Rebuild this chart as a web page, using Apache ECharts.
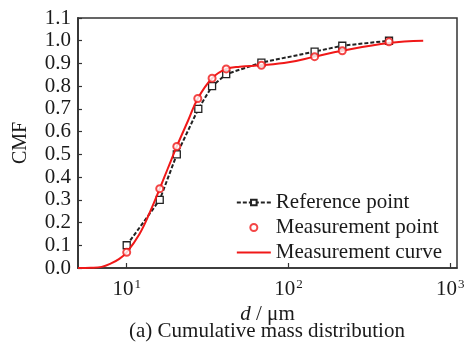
<!DOCTYPE html>
<html>
<head>
<meta charset="utf-8">
<script src="https://cdn.jsdelivr.net/npm/echarts@6/dist/echarts.min.js"></script>
<style>
  html, body { margin: 0; padding: 0; background: #fff; }
  #chart { width: 472px; height: 342px; }
</style>
</head>
<body>
<div id="chart"></div>
<script>
// particle size d (um) and cumulative mass fraction
const refD = [10, 16, 20.4, 27.7, 33.7, 41.2, 68, 145, 215, 418];
const refCmf = [0.10, 0.30, 0.50, 0.70, 0.80, 0.853, 0.904, 0.952, 0.978, 1.0];
const measD = [10, 16, 20.4, 27.5, 33.7, 41.2, 68, 145, 215, 418];
const measCmf = [0.069, 0.349, 0.535, 0.746, 0.835, 0.876, 0.892, 0.93, 0.956, 0.995];
const curveD = [5, 6, 7, 8, 9, 10, 12, 14, 16, 18, 20.4, 24, 27.5, 33.7, 41.2, 50, 68, 100, 145, 215, 418, 680];
const curveCmf = [0, 0.001, 0.005, 0.02, 0.04, 0.069, 0.15, 0.25, 0.349, 0.44, 0.535, 0.65, 0.746, 0.835, 0.876, 0.886, 0.892, 0.905, 0.93, 0.956, 0.99, 1.0];

const font = 'Liberation Serif, Times New Roman, serif';
const ink = '#1a1a1a';
const red = '#f01818';
const chart = echarts.init(document.getElementById('chart'));

const zip = (xs, ys) => xs.map((x, i) => [x, ys[i]]);

chart.setOption({
  animation: false,
  textStyle: { fontFamily: font },
  grid: {
    left: 78, right: 15, top: 18, bottom: 74,
    show: true, borderColor: '#333', borderWidth: 1.5
  },
  legend: {
    orient: 'vertical',
    right: 25,
    top: 187,
    itemWidth: 34,
    itemHeight: 7,
    itemGap: 4,
    textStyle: { fontFamily: font, fontSize: 21, color: ink },
    data: [
      'Reference point',
      { name: 'Measurement point', icon: 'emptyCircle' },
      { name: 'Measurement curve', icon: 'path://M0,0 L34,0 L34,2 L0,2 Z' }
    ]
  },
  xAxis: {
    type: 'log',
    logBase: 10,
    min: 5,
    max: 1100,
    name: '{i|d} / μm',
    nameLocation: 'middle',
    nameGap: 28,
    nameTextStyle: {
      fontFamily: font, fontSize: 21, color: ink,
      rich: { i: { fontStyle: 'italic', fontFamily: font, fontSize: 21, color: ink } }
    },
    axisLine: { show: true, lineStyle: { color: '#333', width: 1.5 } },
    axisTick: { show: true, inside: true, length: 5, lineStyle: { color: '#333', width: 1.2 } },
    minorTick: { show: false },
    splitLine: { show: false },
    axisLabel: {
      fontFamily: font, fontSize: 21, color: ink, margin: 10,
      showMinLabel: false, showMaxLabel: false,
      formatter: function (v) {
        const e = Math.round(Math.log10(v));
        if (Math.abs(Math.pow(10, e) - v) > 1e-6 * v) return '';
        return '{b|10}{s|' + e + '}';
      },
      rich: {
        b: { fontFamily: font, fontSize: 21, color: ink },
        s: { fontFamily: font, fontSize: 13, color: ink, verticalAlign: 'top', padding: [0, 0, 9, 1] }
      }
    }
  },
  yAxis: {
    type: 'value',
    min: 0,
    max: 1.1,
    interval: 0.1,
    name: 'CMF',
    nameLocation: 'middle',
    nameGap: 47,
    nameTextStyle: { fontFamily: font, fontSize: 20, color: ink },
    axisLine: { show: true, lineStyle: { color: '#333', width: 1.8 } },
    axisTick: { show: true, inside: true, length: 4, lineStyle: { color: '#333', width: 1.2 } },
    splitLine: { show: false },
    axisLabel: {
      fontFamily: font, fontSize: 21, color: ink, margin: 7,
      formatter: v => v.toFixed(1)
    }
  },
  series: [
    {
      name: 'Reference point',
      type: 'line',
      data: zip(refD, refCmf),
      symbol: 'rect',
      symbolSize: 7,
      showAllSymbol: true,
      lineStyle: { color: '#222', width: 2, type: [4, 2] },
      itemStyle: { color: '#fff', borderColor: '#222', borderWidth: 1.3 },
      z: 2
    },
    {
      name: 'Measurement curve',
      type: 'line',
      data: zip(curveD, curveCmf),
      smooth: 0.4,
      symbol: 'none',
      lineStyle: { color: red, width: 2 },
      itemStyle: { color: red },
      z: 3
    },
    {
      name: 'Measurement point',
      type: 'scatter',
      data: zip(measD, measCmf),
      symbol: 'emptyCircle',
      symbolSize: 7,
      itemStyle: { color: red, borderColor: red, borderWidth: 1.3 },
      z: 4
    }
  ],
  graphic: [
    {
      type: 'text',
      x: 267,
      y: 331,
      style: {
        text: '(a) Cumulative mass distribution',
        font: '21px ' + font,
        fill: ink,
        align: 'center',
        verticalAlign: 'middle'
      }
    }
  ]
});
</script>
</body>
</html>
